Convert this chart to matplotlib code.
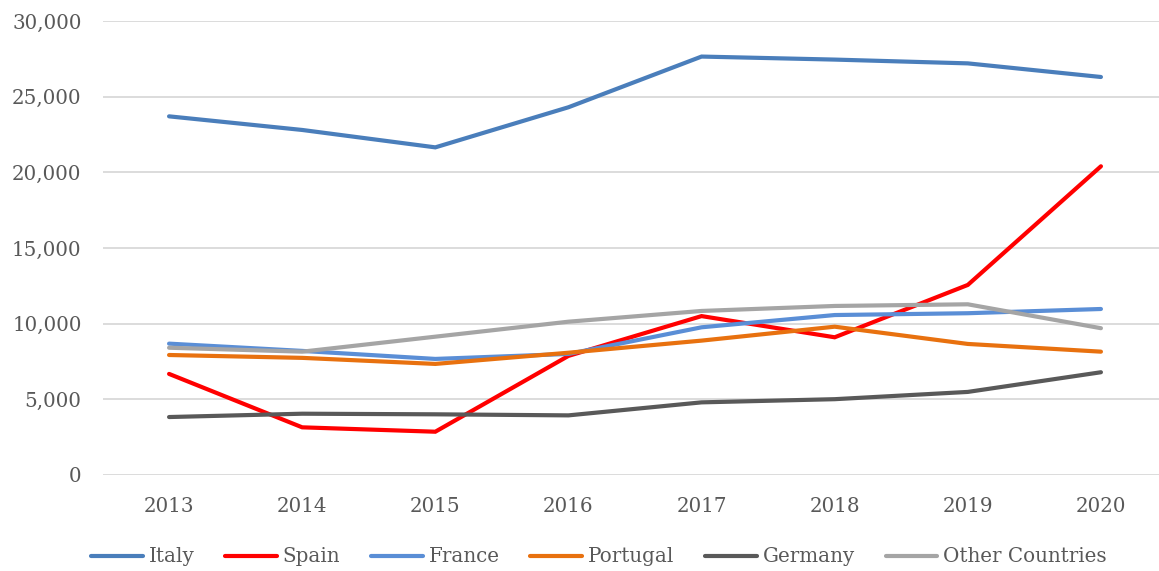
import numpy as np
import matplotlib
matplotlib.use("Agg")
import matplotlib.pyplot as plt
from matplotlib.ticker import FuncFormatter

####################################################
### Data

years = ["2013", "2014", "2015", "2016", "2017", "2018", "2019", "2020"]

italy    = [23700, 22800, 21650, 24300, 27650, 27450, 27200, 26300]
spain    = [6680, 3150, 2860, 7870, 10500, 9100, 12560, 20400]
france   = [8680, 8200, 7670, 8000, 9760, 10570, 10690, 10970]
portugal = [7930, 7740, 7340, 8080, 8880, 9800, 8660, 8150]
germany  = [3830, 4050, 4010, 3940, 4800, 5010, 5490, 6790]
others   = [8410, 8150, 9140, 10130, 10840, 11170, 11280, 9700]

series = [
    ("Italy", italy, "#4A7EBB"),
    ("Spain", spain, "#FF0000"),
    ("France", france, "#5A8ED6"),
    ("Portugal", portugal, "#E8710F"),
    ("Germany", germany, "#595959"),
    ("Other Countries", others, "#A5A5A5"),
]

####################################################
### Plot

plt.rcParams['font.family'] = ['DejaVu Serif']

fig = plt.figure(figsize=(11.59, 5.71), dpi=100)
W, H = 1159., 571.
ax = fig.add_axes([102.5/W, 1 - 475/H, 1065/W, (475-21)/H])

x = np.arange(len(years))
for name, vals, col in series:
    ax.plot(x, vals, color=col, lw=3.0, label=name,
            solid_capstyle='round', solid_joinstyle='miter')

ax.set_xlim(-0.5, len(years) - 0.5)
ax.set_ylim(0, 30000)
ax.set_yticks(np.arange(0, 30001, 5000))
ax.yaxis.set_major_formatter(FuncFormatter(lambda v, p: '{:,.0f}'.format(v)))
ax.set_xticks(x)
ax.set_xticklabels(years)

ax.grid(axis='y', color='#D9D9D9', lw=1.3)
ax.set_axisbelow(True)
for s in ax.spines.values():
    s.set_visible(False)
ax.tick_params(axis='both', length=0, labelsize=14.3, labelcolor='#595959')
ax.tick_params(axis='y', pad=15)
ax.tick_params(axis='x', pad=16)

fig.legend(loc='center', bbox_to_anchor=(599/W, 1 - 557/H), ncol=6,
           frameon=False, fontsize=14.3, labelcolor='#595959',
           handlelength=2.6, handletextpad=0.3, columnspacing=1.55)

fig.savefig('out.png', dpi=100)
